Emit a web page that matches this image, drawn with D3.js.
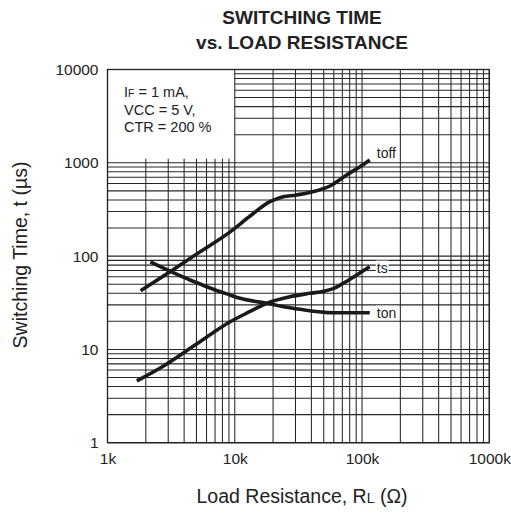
<!DOCTYPE html>
<html><head><meta charset="utf-8">
<script src="https://cdn.jsdelivr.net/npm/d3@7"></script>
<style>
body{margin:0;background:#fff}
text{font-family:"Liberation Sans",Arial,Helvetica,sans-serif;fill:#222}
</style>
</head><body>
<svg id="chart" width="511" height="513"></svg>
<script>
// ---- data ----
const xTickValues = [1e3, 1e4, 1e5, 1e6];
const xTickLabels = ["1k", "10k", "100k", "1000k"];
const yTickValues = [1, 10, 100, 1000, 10000];
const yTickLabels = ["1", "10", "100", "1000", "10000"];

const seriesNames = ["toff", "ts", "ton"];
const toffRL = [1820, 3100, 5000, 9200, 13200, 18900, 22600, 30600, 44000, 56000, 75700, 96400, 115000];
const toffT  = [42.6, 68, 105, 182, 269, 383, 423, 452, 502, 564, 740, 908, 1072];
const tsRL   = [1700, 2740, 5000, 9200, 13200, 17800, 27100, 39000, 50000, 60000, 71000, 90700, 115000];
const tsT    = [4.6, 6.6, 11.4, 19.8, 25.5, 31.2, 36.7, 39.9, 42, 45, 51, 62.7, 77];
const tonRL  = [2170, 3250, 4450, 5330, 6780, 9170, 11000, 17800, 32500, 59400, 115000];
const tonT   = [86.5, 66.8, 55.4, 50.2, 44.1, 38.3, 35.3, 31.2, 26.9, 24.7, 24.7];

// ---- layout ----
const svg = d3.select("#chart");
const L = 107.5, R = 489.3, T = 69.5, B = 442.7;
const x = d3.scaleLog().domain([1e3, 1e6]).range([L, R]);
const y = d3.scaleLog().domain([1, 1e4]).range([B, T]);

// grid
const grid = svg.append("g").attr("stroke", "#262626").attr("stroke-width", 1.05);
const xGrid = [], yGrid = [];
for (let d = 1e3; d < 1e6; d *= 10) for (let m = 1; m <= 9; m++) xGrid.push(m * d);
xGrid.push(1e6);
for (let d = 1; d < 1e4; d *= 10) for (let m = 1; m <= 9; m++) yGrid.push(m * d);
yGrid.push(1e4);

grid.selectAll("line.v").data(xGrid).join("line")
  .attr("x1", d => x(d)).attr("x2", d => x(d))
  .attr("y1", d => (d < 1e4 && d > 1e3) ? y(1000) - 4 : T)
  .attr("y2", B);
grid.selectAll("line.h").data(yGrid).join("line")
  .attr("y1", d => y(d)).attr("y2", d => y(d))
  .attr("x1", d => (d > 1000 && d < 1e4) ? x(1e4) : L)
  .attr("x2", R);

// border
svg.append("rect").attr("x", L).attr("y", T).attr("width", R - L).attr("height", B - T)
  .attr("fill", "none").attr("stroke", "#222").attr("stroke-width", 1.3);

// axes
const xAxis = svg.append("g").attr("transform", `translate(0,${B})`)
  .call(d3.axisBottom(x).tickValues(xTickValues).tickFormat((d, i) => xTickLabels[i]).tickSize(0).tickPadding(10));
const yAxis = svg.append("g").attr("transform", `translate(${L},0)`)
  .call(d3.axisLeft(y).tickValues(yTickValues).tickFormat((d, i) => yTickLabels[i]).tickSize(0).tickPadding(9));
[xAxis, yAxis].forEach(a => {
  a.select(".domain").remove();
  a.selectAll("text").attr("font-size", 15.5).attr("fill", "#222")
    .attr("font-family", "'Liberation Sans',Arial,sans-serif");
});

// curves
const series = [
  {name: seriesNames[0], rl: toffRL, t: toffT, dy: -7},
  {name: seriesNames[1], rl: tsRL, t: tsT, dy: 1},
  {name: seriesNames[2], rl: tonRL, t: tonT, dy: 0}
];
const line = d3.line().x(d => x(d[0])).y(d => y(d[1])).curve(d3.curveMonotoneX);
series.forEach(s => {
  const pts = s.rl.map((r, i) => [r, s.t[i]]);
  svg.append("path").attr("d", line(pts)).attr("fill", "none")
    .attr("stroke", "#1a1a1a").attr("stroke-width", 3.6).attr("stroke-linecap", "butt");
  const last = pts[pts.length - 1];
  const lx = x(last[0]) + 7, ly = y(last[1]) + s.dy;
  const g = svg.append("g");
  const txt = g.append("text").attr("x", lx).attr("y", ly).attr("dy", "0.35em")
    .attr("font-size", 14).text(s.name);
  const bb = txt.node().getBBox();
  g.insert("rect", "text").attr("x", bb.x - 1).attr("y", bb.y + 1).attr("width", bb.width + 2)
    .attr("height", bb.height - 2).attr("fill", "#fff");
});

// annotation box text
const ann = svg.append("g").attr("font-size", 14.5);
const a1 = ann.append("text").attr("x", 124).attr("y", 97);
a1.append("tspan").text("I");
a1.append("tspan").attr("font-size", 10.5).text("F");
a1.append("tspan").text(" = 1 mA,");
ann.append("text").attr("x", 124).attr("y", 114.5).text("VCC = 5 V,");
ann.append("text").attr("x", 124).attr("y", 132).text("CTR = 200 %");

// title
svg.append("text").attr("x", 302).attr("y", 24).attr("text-anchor", "middle")
  .attr("font-size", 19).attr("font-weight", "bold").text("SWITCHING TIME");
svg.append("text").attr("x", 302).attr("y", 49).attr("text-anchor", "middle")
  .attr("font-size", 19).attr("font-weight", "bold").text("vs. LOAD RESISTANCE");

// axis titles
const xt = svg.append("text").attr("x", 302).attr("y", 503).attr("text-anchor", "middle").attr("font-size", 19.5);
xt.append("tspan").text("Load Resistance, R");
xt.append("tspan").attr("font-size", 14).text("L");
xt.append("tspan").text(" (Ω)");
svg.append("text").attr("transform", "translate(27,255) rotate(-90)").attr("text-anchor", "middle")
  .attr("font-size", 19.5).text("Switching Time, t (µs)");
</script>
</body></html>
